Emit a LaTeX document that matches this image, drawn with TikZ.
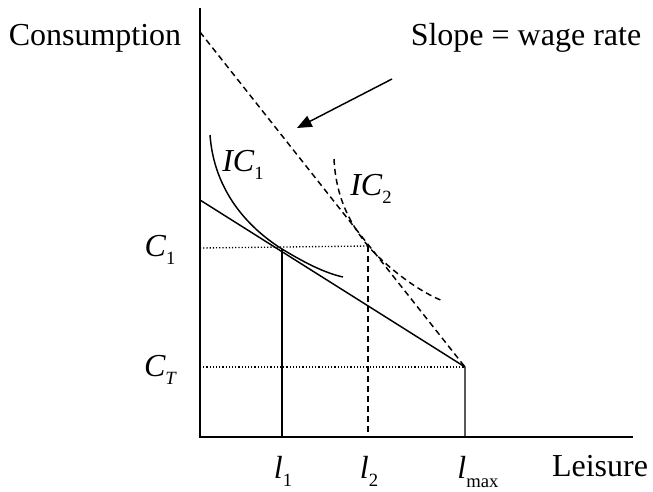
\documentclass[tikz,border=0pt]{standalone}
\usepackage{fontspec}
\setmainfont{Liberation Serif}
\usetikzlibrary{arrows.meta}
\newcommand\lsub[1]{\raisebox{-0.55ex}{\fontsize{14}{14}\selectfont\upshape #1}}
\tikzset{
  axis/.style={line width=1.1pt},
  solidline/.style={line width=1.1pt},
  dashline/.style={line width=1.1pt, dash pattern=on 4.5pt off 3pt},
  dotline/.style={line width=1pt, dash pattern=on 0.9pt off 1.5pt},
  lbl/.style={font=\fontsize{24}{28}\selectfont, inner sep=0pt},
}
\begin{document}
\begin{tikzpicture}[x=0.75pt,y=-0.75pt]
\useasboundingbox (0,0) rectangle (653,492);
% coordinates
\coordinate (O) at (200,437);
\coordinate (ytop) at (200,8);
\coordinate (xend) at (633,437);
\coordinate (B0) at (200,200);
\coordinate (K) at (465,367);
\coordinate (Kb) at (465,437);
\coordinate (D0) at (200,32);
\coordinate (E1) at (282,249);
\coordinate (E1b) at (282,437);
\coordinate (E2) at (368,246);
\coordinate (E2b) at (368,437);
\coordinate (C1y) at (200,248);
\coordinate (CTy) at (200,367);
\coordinate (Atail) at (392,79);
\coordinate (Ahead) at (297,128);
% axes
\draw[axis] (ytop) -- (O) -- (xend);
% dotted guides
\draw[dotline] (C1y) -- (E2);
\draw[dotline] (CTy) -- (K);
% budget
\draw[solidline] (B0) -- (K) -- (Kb);
\draw[solidline] (E1) -- (E1b);
% wage line
\draw[dashline] (D0) -- (K);
\draw[dashline] (E2) -- (E2b);
% IC1
\draw[solidline] (210,135) .. controls (214,190) and (247,227) .. (E1) .. controls (305,263) and (325,273) .. (343,277);
% IC2
\draw[dashline] (334,159) .. controls (336,200) and (352,226) .. (E2) .. controls (384,264) and (415,290) .. (443,301);
% arrow
\draw[line width=1.1pt, -{Triangle[length=11pt,width=9pt]}] (Atail) -- (Ahead);
% labels
\node[lbl] (cons) at (95,38) {Consumption};
\node[lbl] (slope) at (526,38) {Slope = wage rate};
\node[lbl] (ic1) at (243,165) {\itshape IC\lsub{1}};
\node[lbl] (ic2) at (371,189) {\itshape IC\lsub{2}};
\node[lbl] (c1) at (160,250) {\itshape C\lsub{1}};
\node[lbl] (ct) at (160,370) {\itshape C\lsub{\itshape T}};
\node[lbl] (l1) at (283,471) {\itshape l\lsub{1}};
\node[lbl] (l2) at (369,471) {\itshape l\lsub{2}};
\node[lbl] (lmax) at (478,472) {\itshape l\lsub{max}};
\node[lbl] (leis) at (600,466) {Leisure};
\end{tikzpicture}
\end{document}
